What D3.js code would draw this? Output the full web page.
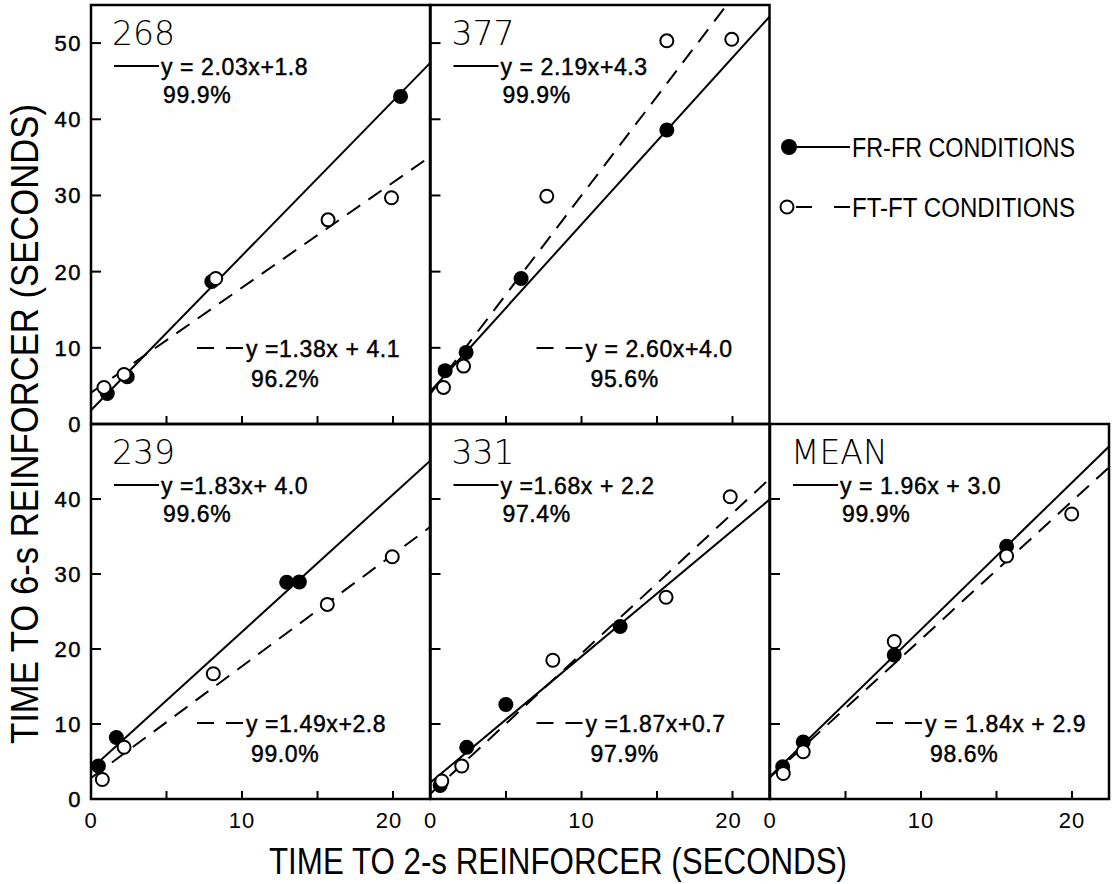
<!DOCTYPE html>
<html><head><meta charset="utf-8">
<script src="https://cdn.jsdelivr.net/npm/d3@7"></script>
<style>
body{margin:0;background:#fff;}
svg text{font-family:"Liberation Sans",Arial,sans-serif;fill:#000;}
svg text.w{stroke:#000;stroke-width:0.45px;}
</style></head><body>
<svg id="c" width="1118" height="884"></svg>
<script>
// ---------------- data ----------------
const panelNames = ["268", "377", "239", "331", "MEAN"];
// FR-FR conditions (filled circles)  [time to 2-s, time to 6-s]
const fr268 = [[1.08, 4.0], [2.40, 6.2], [8.0, 18.7], [20.5, 43.0]];
const fr377 = [[0.97, 7.0], [2.36, 9.4], [6.0, 19.1], [15.65, 38.6]];
const fr239 = [[0.49, 4.4], [1.68, 8.2], [12.96, 28.9], [13.8, 28.95]];
const fr331 = [[0.64, 1.8], [2.40, 6.9], [4.99, 12.6], [12.56, 23.0]];
const frMean = [[0.84, 4.3], [2.20, 7.6], [8.23, 19.2], [15.67, 33.7]];
// FT-FT conditions (open circles)
const ft268 = [[0.86, 4.8], [2.19, 6.5], [8.26, 19.1], [15.7, 26.8], [19.9, 29.7]];
const ft377 = [[0.86, 4.8], [2.19, 7.6], [7.7, 29.9], [15.65, 50.3], [19.95, 50.5]];
const ft239 = [[0.75, 2.6], [2.19, 6.9], [8.1, 16.7], [15.65, 25.95], [19.95, 32.3]];
const ft331 = [[0.75, 2.4], [2.07, 4.4], [8.1, 18.5], [15.6, 26.9], [19.85, 40.3]];
const ftMean = [[0.88, 3.4], [2.20, 6.3], [8.23, 21.0], [15.67, 32.4], [19.98, 38.0]];
// fitted lines
const frSlope = [2.03, 2.19, 1.83, 1.68, 1.96];
const frIntercept = [1.8, 4.3, 4.0, 2.2, 3.0];
const ftSlope = [1.38, 2.60, 1.49, 1.87, 1.84];
const ftIntercept = [4.1, 4.0, 2.8, 0.7, 2.9];
const frEquation = ["y = 2.03x+1.8", "y = 2.19x+4.3", "y =1.83x+ 4.0", "y =1.68x + 2.2", "y = 1.96x + 3.0"];
const ftEquation = ["y =1.38x + 4.1", "y = 2.60x+4.0", "y =1.49x+2.8", "y =1.87x+0.7", "y = 1.84x + 2.9"];
const frPercent = ["99.9%", "99.9%", "99.6%", "97.4%", "99.9%"];
const ftPercent = ["96.2%", "95.6%", "99.0%", "97.9%", "98.6%"];
// axes
const xTicks = [5, 10, 15, 20];
const xTickLabels = [0, 10, 20];
const yTicksTop = [10, 20, 30, 40, 50];
const yTicksBottom = [10, 20, 30, 40];
const yLabelsTop = [0, 10, 20, 30, 40, 50];
const yLabelsBottom = [0, 10, 20, 30, 40];
const xTitle = "TIME TO 2-s REINFORCER (SECONDS)";
const yTitle = "TIME TO 6-s REINFORCER (SECONDS)";
const legendLabels = ["FR-FR CONDITIONS", "FT-FT CONDITIONS"];

const frData = [fr268, fr377, fr239, fr331, frMean];
const ftData = [ft268, ft377, ft239, ft331, ftMean];
const panelCol = [0, 1, 0, 1, 2];
const panelRow = [0, 0, 1, 1, 1];

// ---------------- layout ----------------
const svg = d3.select("#c");
const colLeft = [91, 430.5, 770];
const panelW = 339;
const rowTop = [5, 424];
const rowBottom = [424, 799];
const rowYMax = [55, 50];
const xMax = 22.45;
const narrow = '"Liberation Sans Narrow","Liberation Sans",sans-serif';

panelNames.forEach((name, i) => {
  const L = colLeft[panelCol[i]], r = panelRow[i];
  const T = rowTop[r], B = rowBottom[r];
  const x = d3.scaleLinear().domain([0, xMax]).range([L, L + panelW]);
  const y = d3.scaleLinear().domain([0, rowYMax[r]]).range([B, T]);
  const g = svg.append("g");

  const clipId = "clip" + i;
  svg.append("clipPath").attr("id", clipId).append("rect")
    .attr("x", L).attr("y", T).attr("width", panelW).attr("height", B - T);

  // ticks (inward)
  const yt = r === 0 ? yTicksTop : yTicksBottom;
  g.selectAll(".yt").data(yt).join("line")
    .attr("x1", L).attr("x2", L + 10)
    .attr("y1", d => y(d)).attr("y2", d => y(d))
    .attr("stroke", "#000").attr("stroke-width", 2);
  g.selectAll(".xt").data(xTicks).join("line")
    .attr("x1", d => x(d)).attr("x2", d => x(d))
    .attr("y1", B).attr("y2", B - 8)
    .attr("stroke", "#000").attr("stroke-width", 2);

  // fitted lines
  const line = d3.line().x(d => x(d[0])).y(d => y(d[1]));
  const lg = g.append("g").attr("clip-path", `url(#${clipId})`);
  lg.append("path")
    .attr("d", line([[0, frIntercept[i]], [xMax, frSlope[i] * xMax + frIntercept[i]]]))
    .attr("stroke", "#000").attr("stroke-width", 2).attr("fill", "none");
  lg.append("path")
    .attr("d", line([[0, ftIntercept[i]], [xMax, ftSlope[i] * xMax + ftIntercept[i]]]))
    .attr("stroke", "#000").attr("stroke-width", 2).attr("fill", "none")
    .attr("stroke-dasharray", "16,10");

  // points
  lg.selectAll(".fr").data(frData[i]).join("circle")
    .attr("cx", d => x(d[0])).attr("cy", d => y(d[1])).attr("r", 7.5)
    .attr("fill", "#000");
  lg.selectAll(".ft").data(ftData[i]).join("circle")
    .attr("cx", d => x(d[0])).attr("cy", d => y(d[1])).attr("r", 6.5)
    .attr("fill", "#fff").attr("stroke", "#000").attr("stroke-width", 2);

  // border
  g.append("rect").attr("x", L).attr("y", T).attr("width", panelW).attr("height", B - T)
    .attr("fill", "none").attr("stroke", "#000").attr("stroke-width", 2.5);

  // panel label
  g.append("text").attr("x", L + 21).attr("y", T + 40)
    .style("font-family", '"DejaVu Sans",sans-serif').style("font-weight", 200)
    .style("font-size", "33px").text(name);

  // FR legend (top)
  g.append("line").attr("x1", L + 23).attr("x2", L + 68)
    .attr("y1", T + 61).attr("y2", T + 61).attr("stroke", "#000").attr("stroke-width", 2);
  g.append("text").attr("class", "w").attr("x", L + 70).attr("y", T + 70)
    .style("font-size", "23px").style("letter-spacing", "0.6px").text(frEquation[i]);
  g.append("text").attr("class", "w").attr("x", L + 72).attr("y", T + 98)
    .style("font-size", "23px").style("letter-spacing", "0.6px").text(frPercent[i]);

  // FT legend (bottom)
  g.append("line").attr("x1", L + 106).attr("x2", L + 152)
    .attr("y1", B - 76).attr("y2", B - 76).attr("stroke", "#000").attr("stroke-width", 2)
    .attr("stroke-dasharray", "17,12");
  g.append("text").attr("class", "w").attr("x", L + 155).attr("y", B - 67)
    .style("font-size", "23px").style("letter-spacing", "0.6px").text(ftEquation[i]);
  g.append("text").attr("class", "w").attr("x", L + 160).attr("y", B - 37)
    .style("font-size", "23px").style("letter-spacing", "0.6px").text(ftPercent[i]);

  // y tick labels on first column
  if (panelCol[i] === 0) {
    const yl = r === 0 ? yLabelsTop : yLabelsBottom;
    g.selectAll(".yl").data(yl).join("text").attr("class", "w")
      .attr("x", L - 9).attr("y", d => y(d)).attr("dy", "0.36em")
      .attr("text-anchor", "end").style("font-size", "22px").style("letter-spacing", "1.5px")
      .text(d => d);
  }
  // x tick labels on bottom row
  if (r === 1) {
    g.selectAll(".xl").data(xTickLabels).join("text")
      .attr("x", d => x(d) + (d === 20 && panelCol[i] < 2 ? -4 : 0))
      .attr("y", B + 29)
      .attr("text-anchor", "middle").style("font-size", "22px").style("letter-spacing", "1px")
      .text(d => d);
  }
});

// legend at right
const lgd = svg.append("g");
lgd.append("circle").attr("cx", 789).attr("cy", 147).attr("r", 8).attr("fill", "#000");
lgd.append("line").attr("x1", 795).attr("x2", 850).attr("y1", 147).attr("y2", 147)
  .attr("stroke", "#000").attr("stroke-width", 2);
lgd.append("circle").attr("cx", 787).attr("cy", 207).attr("r", 6.5)
  .attr("fill", "#fff").attr("stroke", "#000").attr("stroke-width", 2);
lgd.append("line").attr("x1", 796).attr("x2", 850).attr("y1", 207).attr("y2", 207)
  .attr("stroke", "#000").attr("stroke-width", 2).attr("stroke-dasharray", "16,22");
lgd.selectAll(".lt").data(legendLabels).join("text")
  .attr("x", 852).attr("y", (d, k) => k === 0 ? 157 : 217)
  .style("font-family", narrow).style("font-size", "27px")
  .attr("textLength", 223).attr("lengthAdjust", "spacingAndGlyphs")
  .text(d => d);

// axis titles
svg.append("text").attr("x", 558).attr("y", 874).attr("text-anchor", "middle")
  .style("font-family", narrow).style("font-size", "36px")
  .attr("textLength", 578).attr("lengthAdjust", "spacingAndGlyphs").text(xTitle);
svg.append("text").attr("transform", "translate(38,424) rotate(-90)").attr("text-anchor", "middle")
  .style("font-family", narrow).style("font-size", "38px")
  .attr("textLength", 640).attr("lengthAdjust", "spacingAndGlyphs").text(yTitle);
</script>
</body></html>
